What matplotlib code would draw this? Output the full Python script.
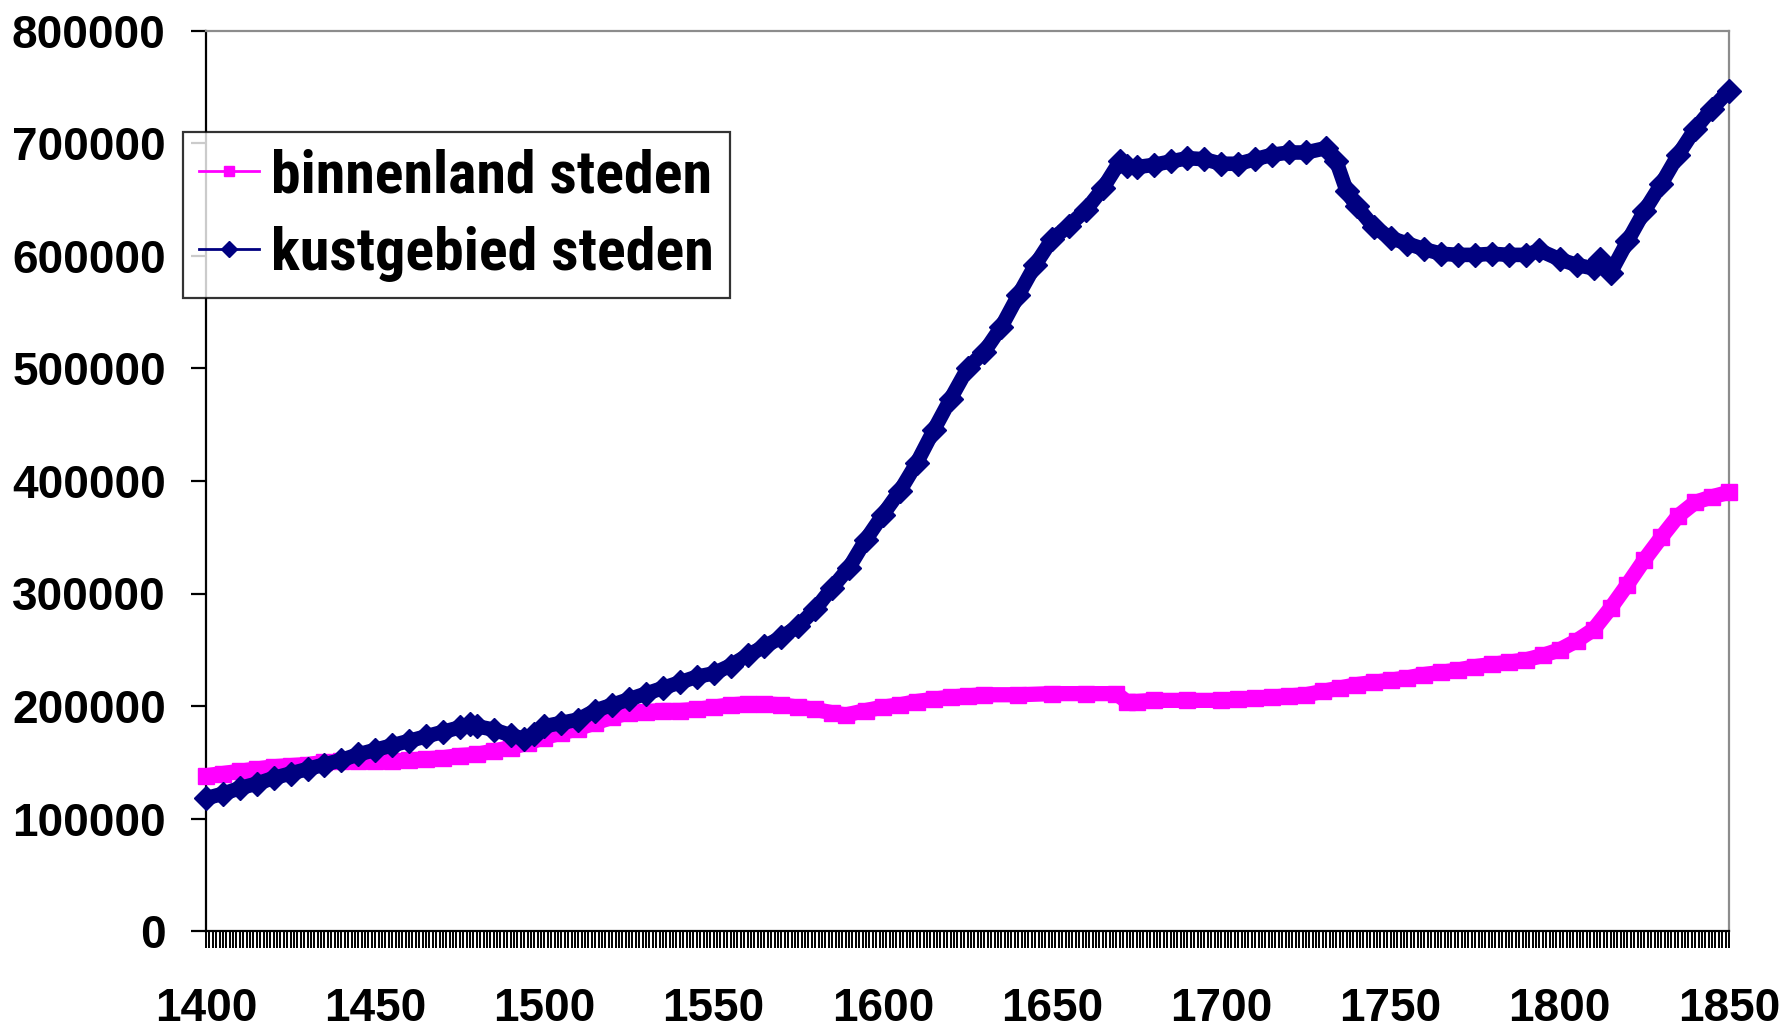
"""Inland vs coastal city populations, 1400-1850."""

import matplotlib

matplotlib.use("Agg")
import matplotlib.pyplot as plt
import numpy as np
from matplotlib import font_manager
from matplotlib.font_manager import FontProperties
from matplotlib.lines import Line2D
from matplotlib.ticker import FixedLocator, FuncFormatter, MultipleLocator

# values, population in thousands
INLAND_YEARS = [
    1400, 1405, 1410, 1415, 1420, 1425, 1430, 1435, 1440, 1445, 1450, 1455, 1460, 1465,
    1470, 1475, 1480, 1485, 1490, 1495, 1500, 1505, 1510, 1515, 1520, 1525, 1530, 1535,
    1540, 1545, 1550, 1555, 1560, 1565, 1570, 1575, 1580, 1585, 1589, 1595, 1600, 1605,
    1610, 1615, 1620, 1625, 1630, 1640, 1650, 1660, 1669, 1672, 1675, 1680, 1690, 1700,
    1705, 1710, 1715, 1720, 1725, 1730, 1735, 1740, 1745, 1750, 1755, 1760, 1765, 1770,
    1775, 1780, 1785, 1790, 1795, 1800, 1805, 1810, 1815, 1820, 1825, 1830, 1835, 1840,
    1845, 1850,
]
INLAND_K = [
    138, 140, 142, 144, 146, 147, 148, 150, 151, 151, 151, 151, 152, 153,
    154, 156, 157, 160, 163, 167, 172, 176, 180, 185, 190, 194, 195, 196,
    196, 197, 199, 201, 202, 202, 201, 199, 197, 194, 192, 196, 199, 201,
    204, 206, 208, 209, 210, 210, 211, 211, 211, 204, 204, 205, 205, 205,
    206, 207, 208, 209, 210, 213, 216, 219, 221, 223, 225, 228, 230, 232,
    235, 237, 239, 241, 245, 250, 258, 268, 287, 308, 330, 350, 369, 381,
    386, 390,
]

COAST_YEARS = [
    1400, 1405, 1410, 1415, 1420, 1425, 1430, 1435, 1440, 1445, 1450, 1455, 1460, 1465,
    1470, 1475, 1478, 1480, 1485, 1490, 1494, 1497, 1500, 1505, 1510, 1515, 1520, 1525,
    1530, 1535, 1540, 1545, 1550, 1555, 1560, 1565, 1570, 1575, 1580, 1585, 1590, 1595,
    1600, 1605, 1610, 1615, 1620, 1625, 1630, 1635, 1640, 1645, 1650, 1655, 1660, 1665,
    1670, 1672, 1675, 1680, 1685, 1690, 1695, 1700, 1705, 1710, 1715, 1720, 1725, 1731,
    1734, 1737, 1740, 1745, 1750, 1755, 1760, 1765, 1770, 1775, 1780, 1785, 1790, 1794,
    1800, 1805, 1810, 1812, 1815, 1820, 1825, 1830, 1835, 1840, 1845, 1850,
]
COAST_K = [
    118, 122, 127, 131, 136, 140, 144, 148, 152, 157, 161, 165, 169, 173,
    177, 181, 184, 182, 179, 174, 171, 175, 182, 185, 188, 196, 201, 206,
    211, 216, 221, 226, 229, 236, 245, 253, 261, 271, 286, 305, 323, 348,
    370, 391, 416, 445, 473, 500, 515, 537, 565, 592, 615, 627, 641, 660,
    684, 680, 679, 681, 684, 687, 686, 682, 682, 686, 690, 692, 692, 696,
    684, 658, 644, 626, 616, 611, 606, 602, 601, 601, 602, 601, 601, 605,
    597, 592, 589, 597, 585, 613, 640, 664, 690, 713, 731, 747,
]

SERIES_LABELS = ["binnenland steden", "kustgebied steden"]
INLAND_COLOR = "#FF00FF"
COAST_COLOR = "#000080"

Y_TICKS = [0, 100000, 200000, 300000, 400000, 500000, 600000, 700000, 800000]
X_LABEL_YEARS = [1400, 1450, 1500, 1550, 1600, 1650, 1700, 1750, 1800, 1850]

W, H, DPI = 1781, 1030, 100
LEGEND_TEXT_W = 441  # px, width of the legend labels in the source
LEGEND_MAX_PT = 46


def _legend_font() -> FontProperties:
    """Bold narrow face if one is installed, else plain Liberation Sans bold."""
    wanted = ["liberation sans narrow", "arial narrow", "noto sans condensed",
              "roboto condensed", "open sans condensed"]
    found = {}
    for f in font_manager.fontManager.ttflist:
        name = f.name.lower()
        fname = f.fname.lower()
        bold = f.weight in ("bold", 700, 600, "semibold") or "bold" in fname
        if not bold or "italic" in fname or "oblique" in fname or "extra" in fname or "semi" in fname:
            continue
        if name in wanted:
            found.setdefault(name, f.fname)
        elif "condensed" in fname.replace("-", "") and "notosans-" in fname and "display" not in fname:
            found.setdefault("noto sans condensed", f.fname)
    for name in wanted:
        if name in found:
            return FontProperties(fname=found[name], size=30)
    return FontProperties(family="Liberation Sans", weight="bold", size=30)


def build() -> None:
    plt.rcParams["font.family"] = ["Liberation Sans", "DejaVu Sans"]
    fig = plt.figure(figsize=(W / DPI, H / DPI), dpi=DPI, facecolor="white")
    ax = fig.add_axes([206 / W, 1 - 931 / H, (1729 - 206) / W, (931 - 31) / H])

    inland = np.array(INLAND_K) * 1000
    coast = np.array(COAST_K) * 1000

    ax.plot(INLAND_YEARS, inland, color=INLAND_COLOR, lw=11, marker="s", ms=11,
            solid_joinstyle="round", solid_capstyle="butt", clip_on=False, zorder=3)
    ax.plot(COAST_YEARS, coast, color=COAST_COLOR, lw=10.5, marker="D", ms=12,
            solid_joinstyle="round", solid_capstyle="butt", clip_on=False, zorder=4)

    ax.set_xlim(1400, 1850)
    ax.set_ylim(0, 800000)

    ax.xaxis.set_major_locator(FixedLocator(X_LABEL_YEARS))
    ax.xaxis.set_minor_locator(MultipleLocator(1))
    ax.yaxis.set_major_locator(FixedLocator(Y_TICKS))
    ax.yaxis.set_major_formatter(FuncFormatter(lambda v, _: f"{int(v)}"))

    ax.tick_params(axis="x", which="both", direction="out", length=12.5, width=1.4,
                   color="black", pad=28, labelsize=33)
    ax.tick_params(axis="y", direction="out", length=11, width=1.6, color="black",
                   pad=18, labelsize=33)
    for lab in ax.get_xticklabels() + ax.get_yticklabels():
        lab.set_fontweight("bold")

    for side in ["left", "bottom"]:
        ax.spines[side].set_color("black")
        ax.spines[side].set_linewidth(1.6)
    for side in ["top", "right"]:
        ax.spines[side].set_color("#8C8C8C")
        ax.spines[side].set_linewidth(1.6)

    # size the legend font so the labels are as wide as in the source
    fp = _legend_font()
    renderer = fig.canvas.get_renderer()
    probe = fig.text(0, 0, SERIES_LABELS[0], fontproperties=fp)
    width = probe.get_window_extent(renderer).width
    probe.remove()
    fp.set_size(min(LEGEND_MAX_PT, fp.get_size() * LEGEND_TEXT_W / width))
    size_px = fp.get_size_in_points() * DPI / 72

    handles = [
        Line2D([], [], color=INLAND_COLOR, lw=2, marker="s", ms=7),
        Line2D([], [], color=COAST_COLOR, lw=2, marker="D", ms=8),
    ]
    leg = fig.legend(handles, SERIES_LABELS, loc="upper left",
                     bbox_to_anchor=(183 / W, 1 - 132 / H), borderaxespad=0,
                     prop=fp, frameon=True, fancybox=False,
                     handlelength=60 / size_px, handletextpad=12 / size_px,
                     labelspacing=0.36, borderpad=0.27)
    leg.get_frame().set_edgecolor("black")
    leg.get_frame().set_linewidth(1.6)
    leg.set_zorder(10)

    fig.savefig("out.png", dpi=DPI, facecolor="white")
    plt.close(fig)


def main() -> None:
    build()


if __name__ == "__main__":
    main()
